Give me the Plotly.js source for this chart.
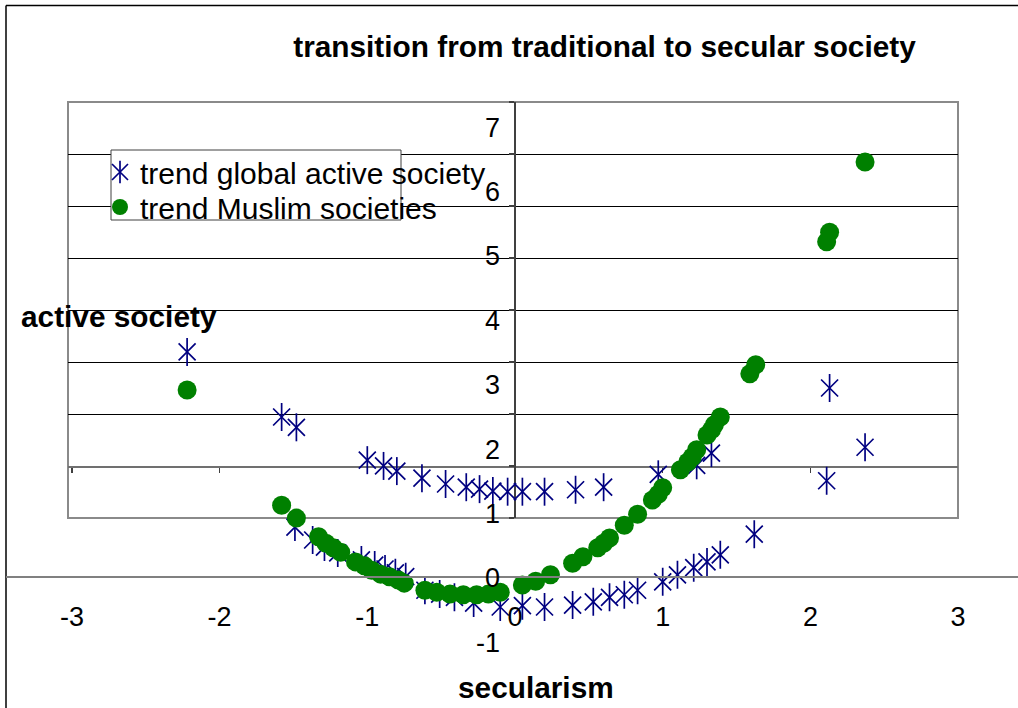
<!DOCTYPE html>
<html>
<head>
<meta charset="utf-8">
<script src="https://cdn.plot.ly/plotly-3.0.1.min.js"></script>
<style>html,body{margin:0;padding:0;background:#fff;}#chart{width:1018px;height:708px;}</style>
</head>
<body>
<div id="chart"></div>
<script>
// ---- data ----
const chartTitle = "transition from traditional to secular society";
const xTitle = "secularism";
const yTitle = "active society";
const seriesNames = ["trend global active society", "trend Muslim societies"];

const xTicks = [-3, -2, -1, 0, 1, 2, 3];
const xTickLabels = ["-3", "-2", "-1", "0", "1", "2", "3"];
const yTicks = [-1, 0, 1, 2, 3, 4, 5, 6, 7];
const yTickLabels = ["-1", "0", "1", "2", "3", "4", "5", "6", "7"];

const globalX = [-2.22, -1.58, -1.48, -1.00, -0.89, -0.80, -0.63, -0.47, -0.33, -0.24, -0.15, -0.05,
  0.05, 0.20, 0.41, 0.60, 0.97, 1.23, 1.33, 2.13, 2.37, 2.11,
  -1.49, -1.37, -1.29, -1.20, -1.04, -0.95, -0.88, -0.81, -0.74, -0.61, -0.51, -0.41, -0.28, -0.10,
  0.05, 0.20, 0.39, 0.53, 0.64, 0.74, 0.83, 1.00, 1.10, 1.21, 1.30, 1.39, 1.62];
const globalY = [3.51, 2.50, 2.34, 1.83, 1.74, 1.66, 1.55, 1.46, 1.41, 1.38, 1.35, 1.34,
  1.34, 1.34, 1.37, 1.41, 1.61, 1.75, 1.94, 2.95, 2.03, 1.51,
  0.79, 0.59, 0.48, 0.39, 0.28, 0.20, 0.14, 0.08, 0.02, -0.19, -0.25, -0.30, -0.39, -0.45,
  -0.43, -0.45, -0.42, -0.37, -0.30, -0.26, -0.19, -0.06, 0.05, 0.16, 0.25, 0.36, 0.68];

const muslimX = [-2.22, -1.58, -1.48, -1.33, -1.28, -1.23, -1.18, -1.08, -1.02, -0.97, -0.91, -0.85,
  -0.79, -0.75, -0.61, -0.53, -0.44, -0.35, -0.26, -0.18, -0.10, 0.05, 0.14, 0.24, 0.39, 0.46,
  0.56, 0.60, 0.64, 0.74, 0.83, 0.93, 0.97, 1.00, 1.12, 1.17, 1.20, 1.23, 1.30, 1.33, 1.35, 1.39,
  1.59, 1.63, 2.11, 2.13, 2.37];
const muslimY = [2.92, 1.13, 0.93, 0.64, 0.54, 0.47, 0.40, 0.25, 0.19, 0.12, 0.06, 0.02,
  -0.03, -0.08, -0.19, -0.22, -0.25, -0.26, -0.26, -0.25, -0.22, -0.11, -0.05, 0.05, 0.23, 0.33,
  0.47, 0.54, 0.62, 0.82, 0.99, 1.21, 1.30, 1.40, 1.68, 1.80, 1.88, 1.99, 2.22, 2.30, 2.38, 2.50,
  3.17, 3.31, 5.22, 5.37, 6.46];

// ---- styling ----
const W = 1018, H = 708;
const px = v => v / W;            // horizontal pixel -> paper fraction
const py = v => (H - v) / H;      // vertical pixel -> paper fraction
const FONT = "Liberation Sans, Arial, Helvetica, sans-serif";
const NAVY = "#000080", GREEN = "#008000";
const X0PX = 515, XUNIT = 147.7;  // data x=0 pixel, pixels per unit
const Y0PX = 578, YUNIT = 64.4;   // data y=0 pixel, pixels per unit

const traces = [
  { // empty trace that only creates the background "plot area" subplot
    type: "scatter", mode: "markers", x: [], y: [], xaxis: "x", yaxis: "y",
    showlegend: false, hoverinfo: "skip"
  },
  {
    type: "scatter", mode: "markers", name: seriesNames[0], legend: "legend",
    x: globalX, y: globalY, xaxis: "x2", yaxis: "y2",
    marker: { symbol: "x-thin-open", size: 17, color: NAVY, line: { color: NAVY, width: 1.7 } }
  },
  { // vertical stroke of the six-armed star marker (legend symbol overlaid on the first entry)
    type: "scatter", mode: "markers", name: " ", legend: "legend3",
    x: globalX, y: globalY, xaxis: "x2", yaxis: "y2",
    marker: { symbol: "line-ns-open", size: 20, color: NAVY, line: { color: NAVY, width: 1.7 } }
  },
  {
    type: "scatter", mode: "markers", name: seriesNames[1], legend: "legend2",
    x: muslimX, y: muslimY, xaxis: "x2", yaxis: "y2",
    marker: { symbol: "circle", size: 19, color: GREEN, line: { width: 0 } }
  }
];

const legendCommon = {
  xanchor: "left", xref: "paper", yanchor: "middle", yref: "paper",
  bgcolor: "rgba(0,0,0,0)", borderwidth: 0,
  font: { family: FONT, size: 30, color: "#000" },
  itemwidth: 30
};

const layout = {
  width: W, height: H,
  margin: { l: 0, r: 0, t: 0, b: 0, pad: 0 },
  paper_bgcolor: "#ffffff",
  plot_bgcolor: "rgba(0,0,0,0)",
  font: { family: FONT, size: 26, color: "#000" },
  showlegend: true,
  title: {
    text: chartTitle,
    font: { family: FONT, size: 29.8, weight: "bold", color: "#000" },
    x: px(604.5), xanchor: "center", xref: "paper",
    y: py(47), yanchor: "middle", yref: "paper"
  },
  // background plot-area box with its own grid
  xaxis: {
    domain: [px(68), px(958)], range: [(68 - X0PX) / XUNIT, (958 - X0PX) / XUNIT],
    anchor: "free", position: py(466),
    showline: true, linecolor: "#707070", linewidth: 1.5,
    ticks: "outside", ticklen: 5, tickcolor: "#404040", tickwidth: 1.5,
    tickvals: xTicks, showticklabels: false,
    showgrid: false, zeroline: false, fixedrange: true
  },
  yaxis: {
    domain: [py(518), py(102)], range: [0, 8],
    anchor: "free", position: px(514),
    showline: true, linecolor: "#404040", linewidth: 1.5,
    ticks: "outside", ticklen: 5, tickcolor: "#404040", tickwidth: 1.5,
    dtick: 1, tick0: 0, showticklabels: false,
    showgrid: true, gridcolor: "#000000", gridwidth: 1,
    zeroline: false, fixedrange: true
  },
  // data axes
  xaxis2: {
    domain: [px(6), 1], range: [(6 - X0PX) / XUNIT, (W - X0PX) / XUNIT],
    anchor: "free", position: py(577),
    showline: true, linecolor: "#808080", linewidth: 2,
    tickvals: xTicks, ticktext: xTickLabels, ticks: "", ticklabelstandoff: 16,
    tickfont: { family: FONT, size: 27, color: "#000" },
    showgrid: false, zeroline: false, fixedrange: true
  },
  yaxis2: {
    domain: [py(Y0PX + 1.2 * YUNIT), py(Y0PX - 7.4 * YUNIT)], range: [-1.2, 7.4],
    anchor: "free", position: px(514),
    showline: false, tickvals: yTicks, ticktext: yTickLabels, ticks: "", ticklabelstandoff: 14,
    tickfont: { family: FONT, size: 27, color: "#000" },
    showgrid: false, zeroline: false, fixedrange: true
  },
  legend: Object.assign({}, legendCommon, { x: px(100), y: py(172) }),
  legend2: Object.assign({}, legendCommon, { x: px(100), y: py(207) }),
  legend3: Object.assign({}, legendCommon, { x: px(100), y: py(172) }),
  annotations: [
    { text: "<b>" + yTitle + "</b>", xref: "paper", yref: "paper",
      x: px(118.5), y: py(316), xanchor: "center", yanchor: "middle", showarrow: false,
      font: { family: FONT, size: 29.8, color: "#000" } },
    { text: "<b>" + xTitle + "</b>", xref: "paper", yref: "paper",
      x: px(535.5), y: py(687), xanchor: "center", yanchor: "middle", showarrow: false,
      font: { family: FONT, size: 29.8, color: "#000" } }
  ],
  shapes: [
    // outer chart border (top and left visible)
    { type: "line", xref: "paper", yref: "paper", x0: px(6), x1: 1, y0: py(5.5), y1: py(5.5),
      line: { color: "#000", width: 1.5 }, layer: "below" },
    { type: "line", xref: "paper", yref: "paper", x0: px(6), x1: px(6), y0: 0, y1: py(5.5),
      line: { color: "#000", width: 1.5 }, layer: "below" },
    // plot area frame
    { type: "rect", xref: "x domain", yref: "y domain", x0: 0, x1: 1, y0: 0, y1: 1,
      line: { color: "#8a8a8a", width: 2 }, fillcolor: "rgba(0,0,0,0)", layer: "below" },
    // legend frame
    { type: "rect", xref: "paper", yref: "paper", x0: px(111), x1: px(401), y0: py(220), y1: py(150),
      line: { color: "#404040", width: 1 }, fillcolor: "#ffffff", layer: "above" }
  ]
};

Plotly.newPlot("chart", traces, layout, { displayModeBar: false, staticPlot: true });
</script>
</body>
</html>
